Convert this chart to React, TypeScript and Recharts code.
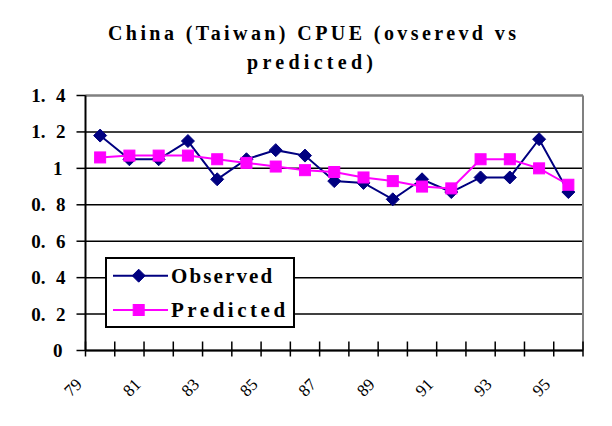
import React from "react";
import {
  LineChart,
  Line,
  XAxis,
  YAxis,
  CartesianGrid,
  Legend,
  ReferenceLine,
} from "recharts";

const years = [79, 80, 81, 82, 83, 84, 85, 86, 87, 88, 89, 90, 91, 92, 93, 94, 95];
const observed = [1.18, 1.05, 1.05, 1.15, 0.94, 1.05, 1.1, 1.07, 0.93, 0.92, 0.83, 0.94, 0.87, 0.95, 0.95, 1.16, 0.87];
const predicted = [1.06, 1.07, 1.07, 1.07, 1.05, 1.03, 1.01, 0.99, 0.98, 0.95, 0.93, 0.9, 0.89, 1.05, 1.05, 1.0, 0.91];
const xLabels = [79, 81, 83, 85, 87, 89, 91, 93, 95];
const yTicks = [0, 0.2, 0.4, 0.6, 0.8, 1, 1.2, 1.4];
const titleLines = ["China (Taiwan) CPUE (ovserevd vs", "predicted)"];

const series = [
  { key: "observed", name: "Observed", color: "#000080", shape: "diamond" },
  { key: "predicted", name: "Predicted", color: "#FF00FF", shape: "square" },
];

const data = years.map((year, i) => ({
  year,
  observed: observed[i],
  predicted: predicted[i],
}));

// tick marks sit between the categories, labels on the odd years
const bounds = [...years.map((y) => y - 0.5), years[years.length - 1] + 0.5];
const xDomain = [bounds[0], bounds[bounds.length - 1]];

const W = 604;
const H = 418;
const M = { top: 87.5, right: 29, bottom: 45.5, left: 17.5 };
const Y_AXIS_W = 60;
const BAND = (W - M.left - M.right - Y_AXIS_W) / years.length;
const X_TICK_SIZE = 15;
const X_TICK_MARGIN = 2;

const FONT = "'Liberation Serif', 'Times New Roman', serif";

function Marker({ shape, cx, cy, color }: { shape: string; cx: number; cy: number; color: string }) {
  if (shape === "diamond") {
    const r = 6.5;
    return (
      <polygon
        points={`${cx},${cy - r} ${cx + r},${cy} ${cx},${cy + r} ${cx - r},${cy}`}
        fill={color}
        stroke={color}
        strokeWidth={1}
      />
    );
  }
  return <rect x={cx - 5.5} y={cy - 5.5} width={11} height={11} fill={color} stroke={color} strokeWidth={1} />;
}

// one tick per category boundary (crossing the axis) + label of the category to its right
function XTick(props: any) {
  const { x, y, payload } = props;
  const axisY = y - X_TICK_SIZE - X_TICK_MARGIN;
  const year = payload.value + 0.5;
  const tx = x + BAND / 2 - 17;
  const ty = axisY + 35;
  return (
    <g>
      <line x1={x} y1={axisY - 9} x2={x} y2={axisY + 6} stroke="#000" strokeWidth={1.5} />
      {xLabels.includes(year) && (
        <text
          x={tx}
          y={ty}
          transform={`rotate(-45 ${tx} ${ty})`}
          textAnchor="end"
          fontFamily={FONT}
          fontSize={17}
          fill="#000"
        >
          {year}
        </text>
      )}
    </g>
  );
}

function YTick(props: any) {
  const { x, y, payload } = props;
  const label = String(Math.round(payload.value * 10) / 10);
  const style = { fontFamily: FONT, fontSize: 19, fontWeight: "bold" as const, fill: "#000" };
  const mark = <line x1={x + 11} y1={y} x2={x + 20} y2={y} stroke="#000" strokeWidth={1.5} />;
  if (!label.includes(".")) {
    return (
      <g>
        {mark}
        <text x={x - 3} y={y} dy={6.5} textAnchor="end" {...style}>
          {label}
        </text>
      </g>
    );
  }
  const [a, b] = label.split(".");
  return (
    <g>
      {mark}
      <text x={x - 20} y={y} dy={6.5} textAnchor="end" {...style}>
        {a + "."}
      </text>
      <text x={x} y={y} dy={6.5} textAnchor="end" {...style}>
        {b}
      </text>
    </g>
  );
}

function LegendBox() {
  return (
    <div
      style={{
        width: 190,
        height: 71,
        border: "2px solid #000",
        background: "#fff",
        boxSizing: "border-box",
      }}
    >
      <svg width={186} height={67} style={{ display: "block" }}>
        {series.map((s, i) => {
          const cy = 16.7 + i * 34.3;
          return (
            <g key={s.key}>
              <line x1={6} y1={cy} x2={61} y2={cy} stroke={s.color} strokeWidth={2} />
              <Marker shape={s.shape} cx={31.7} cy={cy} color={s.color} />
              <text
                x={64}
                y={cy + 7}
                fontFamily={FONT}
                fontSize={21}
                fontWeight="bold"
                fill="#000"
                textLength={s.name.length * 12.9 - 2}
                lengthAdjust="spacing"
              >
                {s.name}
              </text>
            </g>
          );
        })}
      </svg>
    </div>
  );
}

export default function App() {
  return (
    <div style={{ position: "relative", width: W, height: H }}>
      <LineChart width={W} height={H} data={data} margin={M}>
        <CartesianGrid vertical={false} stroke="#000" strokeWidth={1.5} />
        <XAxis
          dataKey="year"
          type="number"
          domain={xDomain}
          ticks={bounds}
          interval={0}
          allowDataOverflow
          axisLine={{ stroke: "#000", strokeWidth: 2 }}
          tickLine={false}
          tickSize={X_TICK_SIZE}
          tickMargin={X_TICK_MARGIN}
          tick={<XTick />}
          height={30}
        />
        <YAxis
          domain={[0, 1.4]}
          ticks={yTicks}
          interval={0}
          width={Y_AXIS_W}
          axisLine={{ stroke: "#000", strokeWidth: 2 }}
          tickLine={false}
          tickSize={9}
          tickMargin={11}
          tick={<YTick />}
        />
        <ReferenceLine y={1.4} stroke="#808080" strokeWidth={2} />
        <ReferenceLine x={xDomain[1]} stroke="#808080" strokeWidth={2} />
        {series.map((s) => (
          <Line
            key={s.key}
            dataKey={s.key}
            name={s.name}
            stroke={s.color}
            strokeWidth={2}
            isAnimationActive={false}
            dot={(p: any) => (
              <Marker key={`${s.key}-${p.index}`} shape={s.shape} cx={p.cx} cy={p.cy} color={s.color} />
            )}
          />
        ))}
        <Legend
          layout="vertical"
          align="center"
          verticalAlign="middle"
          wrapperStyle={{ left: 97, top: 249, width: 190 }}
          content={<LegendBox />}
        />
      </LineChart>
      <div
        style={{
          position: "absolute",
          left: -2,
          top: -2,
          width: 606,
          height: 420,
          borderLeft: "2px solid #000",
          borderTop: "2px solid #000",
          boxSizing: "border-box",
          pointerEvents: "none",
        }}
      />
      <svg
        width={612}
        height={90}
        style={{ position: "absolute", left: -8, top: -8, pointerEvents: "none" }}
      >
        <text x={312} y={40} textAnchor="middle" fontFamily={FONT} fontSize={20} fontWeight="bold" textLength={408} lengthAdjust="spacing">
          {titleLines[0]}
        </text>
        <text x={310} y={69} textAnchor="middle" fontFamily={FONT} fontSize={20} fontWeight="bold" textLength={126} lengthAdjust="spacing">
          {titleLines[1]}
        </text>
      </svg>
    </div>
  );
}
